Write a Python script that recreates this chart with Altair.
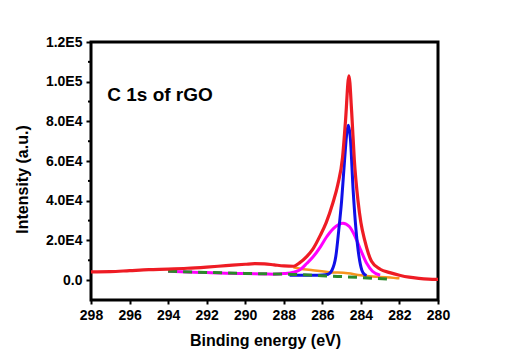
import altair as alt
import pandas as pd

# ---- data ----
total_x = [298, 297, 296, 295, 294, 293, 292, 291, 290, 289.5, 289, 288.5, 288, 287.5, 287.2,
           286.8, 286.5, 286.1, 285.8, 285.45, 285.2, 284.95, 284.8, 284.62, 284.48, 284.34,
           284.15, 284.0, 283.8, 283.45, 283.0, 282.5, 282.0, 281.5, 281.0, 280.5, 280]
total_y = [4200, 4300, 4800, 5300, 5600, 6000, 6600, 7300, 8000, 8300, 8200, 7700, 7200, 7000, 8600,
           12000, 15500, 22700, 29000, 39000, 48000, 62000, 80000, 103000, 85000, 60500,
           40000, 29000, 20000, 9500, 5500, 3800, 2500, 1500, 900, 500, 350]

c1_x = [287.7, 287.0, 286.5, 286.0, 285.7, 285.5, 285.3, 285.15, 285.0, 284.85, 284.72, 284.65,
        284.55, 284.4, 284.25, 284.1, 283.95, 283.8, 283.7]
c1_y = [2500, 2500, 2500, 2600, 3000, 5000, 12000, 25000, 40000, 60000, 75000, 78000,
        72000, 45000, 25000, 12000, 5000, 2800, 2400]

c2_x = [294, 293, 292, 291, 290, 289, 288.5, 288, 287.5, 287.2, 286.8, 286.5, 286.1, 285.8,
        285.43, 284.93, 284.6, 284.3, 284.0, 283.7, 283.4, 283.0]
c2_y = [4500, 4100, 3800, 3500, 3300, 3100, 3000, 3300, 4000, 5000, 8500, 11500, 16800, 21500,
        26000, 28700, 27000, 22000, 15000, 8500, 4500, 2500]

bg_x = [287.5, 287.2, 286.5, 285.5, 284.9, 284.0, 283.2, 282.3, 282.0]
bg_y = [6500, 5900, 5000, 3900, 3700, 2500, 1700, 1150, 900]

base_x = [294, 292, 290, 287.5, 285.45, 284.05, 282.6]
base_y = [4500, 3900, 3400, 2900, 2000, 1350, 500]

y_ticks = [0, 20000, 40000, 60000, 80000, 100000, 120000]
y_minor = [10000, 30000, 50000, 70000, 90000, 110000]
x_ticks = [298, 296, 294, 292, 290, 288, 286, 284, 282, 280]

FONT = "Liberation Sans"

xs = alt.Scale(domain=[298, 280], nice=False, zero=False)
ys = alt.Scale(domain=[-10000, 120000], nice=False, zero=False)

x_axis = alt.Axis(values=x_ticks, title="Binding energy (eV)", grid=False, domain=False,
                  tickColor="black", tickWidth=2, tickSize=4, labelPadding=4,
                  labelFont=FONT, labelFontSize=14, labelFontWeight="bold", labelColor="black",
                  titleFont=FONT, titleFontSize=16, titleFontWeight="bold", titleColor="black",
                  titleX=174, titleY=40, titleAlign="center", titleBaseline="middle",
                  labelFlush=False, labelOverlap=False)
y_axis = alt.Axis(values=y_ticks, title="Intensity (a.u.)", grid=False, domain=False,
                  tickColor="black", tickWidth=2, tickSize=5, labelPadding=4,
                  labelExpr="datum.value == 0 ? '0.0' : replace(format(datum.value, '.1e'), 'e+', 'E')",
                  labelFont=FONT, labelFontSize=14, labelFontWeight="bold", labelColor="black",
                  titleFont=FONT, titleFontSize=16, titleFontWeight="bold", titleColor="black",
                  titleX=-69, titleY=137, titleAlign="center", titleBaseline="middle",
                  titleAngle=270, labelFlush=False, labelOverlap=False)


def line(xv, yv, color, width, dash=None):
    df = pd.DataFrame({"x": xv, "y": yv})
    kw = dict(color=color, strokeWidth=width, interpolate="monotone", clip=True)
    if dash:
        kw["strokeDash"] = dash
    return alt.Chart(df).mark_line(**kw).encode(
        x=alt.X("x:Q", scale=xs, axis=x_axis),
        y=alt.Y("y:Q", scale=ys, axis=y_axis),
    )


orange = line(bg_x, bg_y, "#f7941d", 2.5)
magenta = line(c2_x, c2_y, "#ff00ff", 3)
blue = line(c1_x, c1_y, "#1010e8", 3)
green = line(base_x, base_y, "#2b8a2b", 3, dash=[9, 6])
red = line(total_x, total_y, "#ee1c24", 3.2)

minor = alt.Chart(pd.DataFrame({"y": y_minor})).mark_rule(color="black", strokeWidth=2).encode(
    y=alt.Y("y:Q", scale=ys, axis=y_axis),
    x=alt.value(0), x2=alt.value(-3),
)

label = alt.Chart(pd.DataFrame({"t": ["C 1s of rGO"]})).mark_text(
    font=FONT, fontSize=19, fontWeight="bold", color="black", align="center", baseline="middle"
).encode(text="t:N", x=alt.value(69), y=alt.value(53))

chart = alt.layer(orange, magenta, blue, green, red, minor, label).properties(
    width=347, height=258,
    background="white",
    autosize=alt.AutoSizeParams(type="none"),
    padding={"left": 83, "top": 34, "right": 60, "bottom": 50},
).configure_view(stroke="black", strokeWidth=3)

chart.save("out.html", embed_options={"renderer": "svg", "actions": False})
